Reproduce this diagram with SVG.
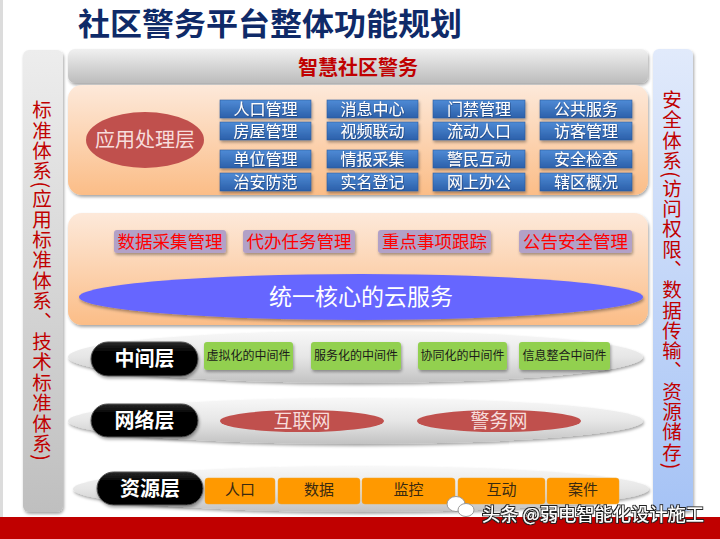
<svg xmlns="http://www.w3.org/2000/svg" width="720" height="539" viewBox="0 0 720 539">
<defs>
<linearGradient id="gBar" x1="0" y1="0" x2="0" y2="1"><stop offset="0" stop-color="#f0f0f0"/><stop offset="1" stop-color="#bcbcbc"/></linearGradient>
<linearGradient id="gLeft" x1="0" y1="0" x2="0" y2="1"><stop offset="0" stop-color="#ededed"/><stop offset="1" stop-color="#bfbfbf"/></linearGradient>
<linearGradient id="gRight" x1="0" y1="0" x2="0" y2="1"><stop offset="0" stop-color="#e1eafb"/><stop offset="1" stop-color="#a6c3f5"/></linearGradient>
<linearGradient id="gPeach" x1="0" y1="0" x2="0" y2="1"><stop offset="0" stop-color="#fde9da"/><stop offset="1" stop-color="#fbbd87"/></linearGradient>
<linearGradient id="gBlue" x1="0" y1="0" x2="0" y2="1"><stop offset="0" stop-color="#4f8bd6"/><stop offset="1" stop-color="#2b60aa"/></linearGradient>
<linearGradient id="gGray" x1="0" y1="0" x2="0" y2="1"><stop offset="0" stop-color="#f8f8f8"/><stop offset="0.5" stop-color="#e6e6e6"/><stop offset="1" stop-color="#c2c2c2"/></linearGradient>
<linearGradient id="gPill" x1="0" y1="0" x2="0" y2="1"><stop offset="0" stop-color="#2a2a2a"/><stop offset="0.3" stop-color="#000"/><stop offset="1" stop-color="#000"/></linearGradient>
<filter id="sh" x="-10%" y="-20%" width="120%" height="150%"><feDropShadow dx="1" dy="2" stdDeviation="1.5" flood-color="#000" flood-opacity="0.35"/></filter>
<filter id="tsh" x="-10%" y="-20%" width="120%" height="150%"><feDropShadow dx="0.6" dy="0.6" stdDeviation="0.4" flood-color="#1a2f60" flood-opacity="0.8"/></filter>
<filter id="wm" x="-10%" y="-20%" width="120%" height="150%"><feMorphology in="SourceAlpha" operator="dilate" radius="1.2" result="d"/><feFlood flood-color="#222"/><feComposite in2="d" operator="in" result="o"/><feMerge><feMergeNode in="o"/><feMergeNode in="SourceGraphic"/></feMerge></filter>
</defs>
<style>
text{font-family:"Noto Sans CJK SC","Noto Sans",sans-serif;}
.bbox{fill:url(#gBlue);stroke:#2a5a9e;stroke-width:0.6;filter:url(#sh);}
.btxt{fill:#fff;font-size:16px;text-anchor:middle;filter:url(#tsh);}
.ptag{fill:#b2a1c7;filter:url(#sh);}
.ptxt{fill:#ff0000;font-size:17.5px;text-anchor:middle;}
.gbox{fill:#92d050;filter:url(#sh);}
.gtxt{fill:#1a1a1a;font-size:12px;text-anchor:middle;}
.obox{fill:#ff9900;stroke:#f0a020;stroke-width:0.5;}
.otxt{fill:#3a2a10;font-size:15px;text-anchor:middle;font-family:"Noto Sans CJK SC",serif;}
.layer{fill:url(#gGray);filter:url(#sh);}
.pill{fill:url(#gPill);stroke:#555;stroke-width:1;filter:url(#sh);}
.piltxt{fill:#fff;font-size:20px;font-weight:bold;text-anchor:middle;}
.redell{fill:#c0504d;}
.redtxt{fill:#f7dddc;font-size:19px;text-anchor:middle;}
.vtxt{fill:#c00000;font-size:19.5px;writing-mode:vertical-rl;}
</style>
<rect x="0" y="0" width="720" height="539" fill="#fff"/>
<rect x="0" y="0" width="3" height="517" fill="#dcdcdc"/>
<rect x="0" y="517" width="720" height="22" fill="#c00000"/>

<text id="title" x="78" y="35" font-size="31" font-weight="bold" fill="#0f2a68" textLength="384" lengthAdjust="spacingAndGlyphs">社区警务平台整体功能规划</text>

<g id="std">
<rect x="23" y="50" width="40" height="462" rx="6" fill="url(#gLeft)" filter="url(#sh)"/>
<text class="vtxt" x="42" y="100" letter-spacing="0.9">标准体系(应用标准体系、技术标准体系)</text>
</g>
<g id="sec">
<rect x="653" y="49" width="40" height="462" rx="6" fill="url(#gRight)" filter="url(#sh)"/>
<text class="vtxt" x="672" y="90" letter-spacing="0.8">安全体系(访问权限、数据传输、资源储存)</text>
</g>

<g id="top">
<rect x="68" y="49" width="580" height="34" rx="7" fill="url(#gBar)" filter="url(#sh)"/>
<text x="358" y="75" font-size="20" font-weight="bold" fill="#c00000" text-anchor="middle">智慧社区警务</text>
</g>

<g id="app">
<rect x="68" y="85" width="580" height="110" rx="14" fill="url(#gPeach)" filter="url(#sh)"/>
<ellipse cx="145" cy="140" rx="59" ry="28" fill="#c0504d"/>
<text x="145" y="147" font-size="20" fill="#f7dddc" text-anchor="middle">应用处理层</text>
<g>
<rect class="bbox" x="220" y="100" width="91" height="18"/><text class="btxt" x="265.5" y="115">人口管理</text>
<rect class="bbox" x="327" y="100" width="91" height="18"/><text class="btxt" x="372.5" y="115">消息中心</text>
<rect class="bbox" x="433" y="100" width="92" height="18"/><text class="btxt" x="479" y="115">门禁管理</text>
<rect class="bbox" x="540" y="100" width="92" height="18"/><text class="btxt" x="586" y="115">公共服务</text>
<rect class="bbox" x="220" y="122" width="91" height="18"/><text class="btxt" x="265.5" y="137">房屋管理</text>
<rect class="bbox" x="327" y="122" width="91" height="18"/><text class="btxt" x="372.5" y="137">视频联动</text>
<rect class="bbox" x="433" y="122" width="92" height="18"/><text class="btxt" x="479" y="137">流动人口</text>
<rect class="bbox" x="540" y="122" width="92" height="18"/><text class="btxt" x="586" y="137">访客管理</text>
<rect class="bbox" x="220" y="150" width="91" height="18"/><text class="btxt" x="265.5" y="165">单位管理</text>
<rect class="bbox" x="327" y="150" width="91" height="18"/><text class="btxt" x="372.5" y="165">情报采集</text>
<rect class="bbox" x="433" y="150" width="92" height="18"/><text class="btxt" x="479" y="165">警民互动</text>
<rect class="bbox" x="540" y="150" width="92" height="18"/><text class="btxt" x="586" y="165">安全检查</text>
<rect class="bbox" x="220" y="173" width="91" height="18"/><text class="btxt" x="265.5" y="188">治安防范</text>
<rect class="bbox" x="327" y="173" width="91" height="18"/><text class="btxt" x="372.5" y="188">实名登记</text>
<rect class="bbox" x="433" y="173" width="92" height="18"/><text class="btxt" x="479" y="188">网上办公</text>
<rect class="bbox" x="540" y="173" width="92" height="18"/><text class="btxt" x="586" y="188">辖区概况</text>
</g>
</g>

<g id="cloud">
<rect x="68" y="213" width="580" height="112" rx="14" fill="url(#gPeach)" filter="url(#sh)"/>
<rect class="ptag" x="114" y="230" width="112" height="23" rx="3"/><text class="ptxt" x="170" y="248">数据采集管理</text>
<rect class="ptag" x="243" y="230" width="112" height="23" rx="3"/><text class="ptxt" x="299" y="248">代办任务管理</text>
<rect class="ptag" x="378" y="230" width="113" height="23" rx="3"/><text class="ptxt" x="434.5" y="248">重点事项跟踪</text>
<rect class="ptag" x="519" y="230" width="113" height="23" rx="3"/><text class="ptxt" x="575.5" y="248">公告安全管理</text>
<ellipse cx="361" cy="297" rx="282" ry="23" fill="#6666ff" filter="url(#sh)"/>
<text x="361" y="305" font-size="23" fill="#fff" text-anchor="middle">统一核心的云服务</text>
</g>

<g id="middle">
<ellipse class="layer" cx="355.5" cy="357" rx="287.5" ry="26"/>
<rect class="pill" x="91" y="342" width="107" height="34" rx="17"/>
<text class="piltxt" x="144.5" y="366">中间层</text>
<rect class="gbox" x="204" y="342" width="89" height="28" rx="3"/><text class="gtxt" x="248.5" y="360">虚拟化的中间件</text>
<rect class="gbox" x="311" y="342" width="90" height="28" rx="3"/><text class="gtxt" x="356" y="360">服务化的中间件</text>
<rect class="gbox" x="418" y="342" width="89" height="28" rx="3"/><text class="gtxt" x="462.5" y="360">协同化的中间件</text>
<rect class="gbox" x="519" y="342" width="91" height="28" rx="3"/><text class="gtxt" x="564.5" y="360">信息整合中间件</text>
</g>

<g id="network">
<ellipse class="layer" cx="355.5" cy="421" rx="287.5" ry="23"/>
<rect class="pill" x="91" y="404" width="107" height="33" rx="16.5"/>
<text class="piltxt" x="144.5" y="428">网络层</text>
<ellipse class="redell" cx="302" cy="421" rx="82" ry="11"/>
<text class="redtxt" x="302" y="428">互联网</text>
<ellipse class="redell" cx="499" cy="421" rx="82" ry="11"/>
<text class="redtxt" x="499" y="428">警务网</text>
</g>

<g id="resource">
<ellipse class="layer" cx="361" cy="489" rx="288" ry="23"/>
<rect class="pill" x="97" y="472" width="106" height="33" rx="16.5"/>
<text class="piltxt" x="150" y="496">资源层</text>
<rect class="obox" x="205" y="478" width="70" height="26" rx="3"/><text class="otxt" x="240" y="495">人口</text>
<rect class="obox" x="278" y="478" width="82" height="26" rx="3"/><text class="otxt" x="319" y="495">数据</text>
<rect class="obox" x="362" y="478" width="93" height="26" rx="3"/><text class="otxt" x="408.5" y="495">监控</text>
<rect class="obox" x="458" y="478" width="87" height="26" rx="3"/><text class="otxt" x="501.5" y="495">互动</text>
<rect class="obox" x="547" y="478" width="72" height="26" rx="3"/><text class="otxt" x="583" y="495">案件</text>
</g>

<g id="watermark">
<ellipse cx="456" cy="504" rx="9" ry="7.5" fill="#fff" stroke="#999" stroke-width="1"/>
<ellipse cx="466" cy="510" rx="8" ry="6.5" fill="#fff" stroke="#999" stroke-width="1"/>
<text x="482" y="521" font-size="18.3" fill="#fff" filter="url(#wm)" textLength="222" lengthAdjust="spacingAndGlyphs">头条 @弱电智能化设计施工</text>
</g>
</svg>
